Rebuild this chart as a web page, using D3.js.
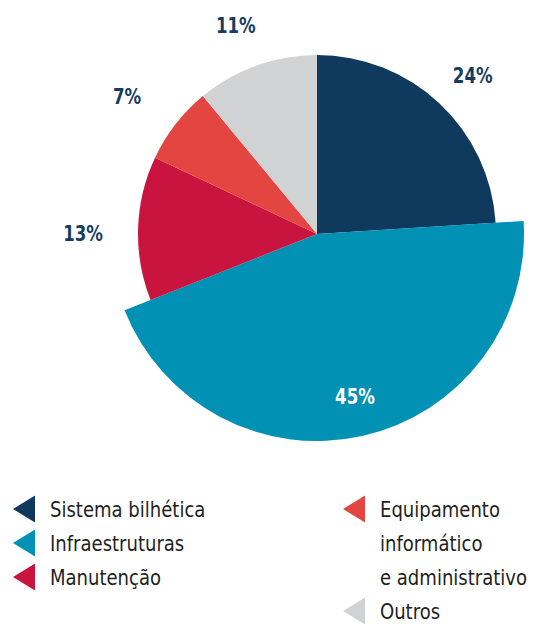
<!DOCTYPE html>
<html><head><meta charset="utf-8">
<script src="https://cdn.jsdelivr.net/npm/d3@7"></script>
<style>
html,body{margin:0;padding:0;background:#fff;}
svg{display:block;}
</style></head>
<body>
<svg id="chart" width="534" height="624"></svg>
<script>
const categories = ["Sistema bilhética","Infraestruturas","Manutenção","Equipamento informático e administrativo","Outros"];
const values = [24, 45, 13, 7, 11];
const colors = ["#0f3a5e","#0091b4","#c8143f","#e34541","#d1d2d4"];
const legendLeft = [["Sistema bilhética"],["Infraestruturas"],["Manutenção"]];
const legendRight = [["Equipamento","informático","e administrativo"],["Outros"]];

const FONT = "'DejaVu Sans Condensed','DejaVu Sans',sans-serif";
const svg = d3.select("#chart");
const cx = 317, cy = 234, R = 179, Rbig = 207;
const g = svg.append("g").attr("transform", `translate(${cx},${cy})`);

const pie = d3.pie().sort(null).value(d => d)(values);
const arc = d3.arc().innerRadius(0);
g.selectAll("path").data(pie).join("path")
  .attr("d", (d,i) => arc.outerRadius(i === 1 ? Rbig : R)(d))
  .attr("fill", (d,i) => colors[i]);

const labelR = [226, 165, 232, 234, 225];
const labelShift = [[1,6],[2,1],[-2,6],[-5,5],[-5,3]];
g.selectAll("g.lbl").data(pie).join("g")
  .attr("class","lbl")
  .attr("transform", (d,i) => {
    const a = (d.startAngle+d.endAngle)/2;
    const x = Math.sin(a)*labelR[i] + labelShift[i][0];
    const y = -Math.cos(a)*labelR[i] + labelShift[i][1];
    return `translate(${x},${y}) scale(0.84,1)`;
  })
  .append("text")
  .attr("dy","0.36em")
  .attr("text-anchor","middle")
  .attr("font-family", FONT)
  .attr("font-weight","bold")
  .attr("font-size", 22)
  .attr("fill", (d,i) => i === 1 ? "#ffffff" : "#173c5f")
  .text(d => d.data + "%");

function legendCol(items, colorIdx, x, y0) {
  const step = 34;
  let row = 0;
  items.forEach((lines, k) => {
    const y = y0 + row*step;
    svg.append("path")
      .attr("d", `M${x},${y} L${x+22},${y-13.5} L${x+22},${y+13.5} Z`)
      .attr("fill", colors[colorIdx[k]]);
    lines.forEach((ln, j) => {
      svg.append("g")
        .attr("transform", `translate(${x+37},${y + j*step}) scale(0.955,1)`)
        .append("text")
        .attr("dy","0.36em")
        .attr("font-family", FONT)
        .attr("font-size", 21)
        .attr("fill", "#231f20")
        .text(ln);
    });
    row += lines.length;
  });
}
legendCol(legendLeft, [0,1,2], 13, 509);
legendCol(legendRight, [3,4], 343, 509);
</script>
</body></html>
